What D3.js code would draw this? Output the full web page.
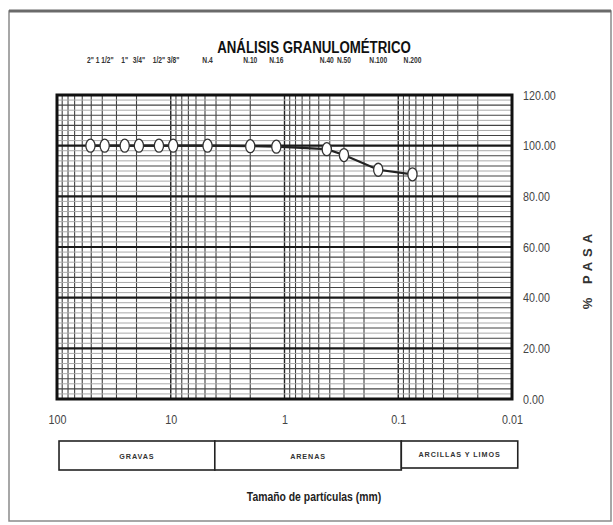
<!DOCTYPE html>
<html>
<head>
<meta charset="utf-8">
<script src="https://cdn.jsdelivr.net/npm/d3@7/dist/d3.min.js"></script>
<style>
  html, body { margin: 0; padding: 0; background: #fff; }
  svg { display: block; }
  text { font-family: "Liberation Sans", Arial, sans-serif; }
</style>
</head>
<body>
<script>
// Sieve series: labels, opening sizes (mm) and percentage passing
const sieveLabels = ['2"', '1 1/2"', '1"', '3/4"', '1/2"', '3/8"', 'N.4', 'N.10', 'N.16', 'N.40', 'N.50', 'N.100', 'N.200'];
const sieveSizes  = [50.8, 38.1, 25.4, 19.05, 12.7, 9.525, 4.75, 2.0, 1.18, 0.425, 0.3, 0.15, 0.075];
const percentPass = [100, 100, 100, 100, 100, 100, 100, 99.8, 99.6, 98.6, 96.3, 90.5, 88.7];

// Axis ticks
const xTickValues = [100, 10, 1, 0.1, 0.01];
const xTickLabels = ["100", "10", "1", "0.1", "0.01"];
const yTickValues = [0, 20, 40, 60, 80, 100, 120];

// Soil fraction bands below the chart (limits in mm)
const zoneNames  = ["GRAVAS", "ARENAS", "ARCILLAS Y LIMOS"];
const zoneLimits = [96, 4.1, 0.094, 0.0089];

const W = 613, H = 525;
const plot = { left: 57, right: 512, top: 95, bottom: 399 };

const svg = d3.select("body").append("svg")
  .attr("width", W).attr("height", H);

// Condensed text: horizontal squeeze around the anchor point
function placeText(parent, x0, y0, str, opts) {
  const t = parent.append("text")
    .attr("transform", `translate(${x0},${y0}) scale(${opts.sx || 0.8},1)`)
    .attr("text-anchor", opts.anchor || "middle")
    .attr("font-size", opts.size)
    .attr("font-weight", opts.weight || "normal")
    .attr("fill", opts.fill || "#222")
    .text(str);
  if (opts.spacing) t.attr("letter-spacing", opts.spacing);
  return t;
}

// Outer frame
svg.append("rect")
  .attr("x", 9).attr("y", 11).attr("width", 602).attr("height", 510)
  .attr("fill", "none").attr("stroke", "#8a8a8a").attr("stroke-width", 1.5);
svg.append("line")
  .attr("x1", 9).attr("x2", 611).attr("y1", 11).attr("y2", 11)
  .attr("stroke", "#6a6a6a").attr("stroke-width", 3);

const x = d3.scaleLog().domain([100, 0.01]).range([plot.left, plot.right]);
const y = d3.scaleLinear().domain([0, 120]).range([plot.bottom, plot.top]);

// Title
placeText(svg, 314, 53, "ANÁLISIS GRANULOMÉTRICO",
  { size: 17, weight: "bold", sx: 0.78, fill: "#111" });

const g = svg.append("g");

// Vertical log grid: 2..9 within every decade, darker at decades
const minorX = [];
for (let e = -2; e < 2; e++) {
  for (let m = 2; m <= 9; m++) minorX.push(m * Math.pow(10, e));
}
g.selectAll("line.vminor").data(minorX).join("line")
  .attr("x1", d => x(d)).attr("x2", d => x(d))
  .attr("y1", plot.top).attr("y2", plot.bottom)
  .attr("stroke", "#444").attr("stroke-width", 1.1);
g.selectAll("line.vmajor").data([10, 1, 0.1]).join("line")
  .attr("x1", d => x(d)).attr("x2", d => x(d))
  .attr("y1", plot.top).attr("y2", plot.bottom)
  .attr("stroke", "#222").attr("stroke-width", 1.4);

// Horizontal grid: light every 2, medium every 4, heavy every 20
const hLight = d3.range(2, 120, 4);
const hMid = d3.range(4, 120, 4).filter(v => v % 20 !== 0);
g.selectAll("line.hlight").data(hLight).join("line")
  .attr("x1", plot.left).attr("x2", plot.right)
  .attr("y1", d => y(d)).attr("y2", d => y(d))
  .attr("stroke", "#aaa").attr("stroke-width", 1);
g.selectAll("line.hmid").data(hMid).join("line")
  .attr("x1", plot.left).attr("x2", plot.right)
  .attr("y1", d => y(d)).attr("y2", d => y(d))
  .attr("stroke", "#444").attr("stroke-width", 1.1);
g.selectAll("line.hmajor").data(yTickValues.filter(v => v > 0 && v < 120)).join("line")
  .attr("x1", plot.left).attr("x2", plot.right)
  .attr("y1", d => y(d)).attr("y2", d => y(d))
  .attr("stroke", "#1a1a1a").attr("stroke-width", 2.2);

// Plot border
g.append("rect")
  .attr("x", plot.left).attr("y", plot.top)
  .attr("width", plot.right - plot.left).attr("height", plot.bottom - plot.top)
  .attr("fill", "none").attr("stroke", "#111").attr("stroke-width", 3);

// Right value axis
const yAxis = d3.axisRight(y).tickValues(yTickValues)
  .tickFormat(d3.format(".2f")).tickSize(0).tickPadding(0);
svg.append("g")
  .attr("transform", `translate(${plot.right + 11},0)`)
  .call(yAxis)
  .call(a => a.select(".domain").remove())
  .selectAll("text")
  .attr("font-family", "Liberation Sans, Arial, sans-serif")
  .attr("font-size", 12.5).attr("fill", "#444")
  .attr("transform", "scale(0.86,1)");

placeText(svg, 0, 0, "% PASA", { size: 13, weight: "bold", sx: 1, fill: "#333", spacing: 5 })
  .attr("transform", "translate(592,269) rotate(-90)");

// Bottom size axis
const xAxis = d3.axisBottom(x).tickValues(xTickValues)
  .tickFormat((d, i) => xTickLabels[i]).tickSize(0).tickPadding(0);
svg.append("g")
  .attr("transform", `translate(0,${plot.bottom + 16})`)
  .call(xAxis)
  .call(a => a.select(".domain").remove())
  .selectAll("text")
  .attr("font-family", "Liberation Sans, Arial, sans-serif")
  .attr("font-size", 12.5).attr("fill", "#444")
  .attr("transform", "scale(0.86,1)");

// Sieve names along the top
const sg = svg.append("g");
sieveLabels.forEach((lab, i) => {
  placeText(sg, x(sieveSizes[i]), 63, lab, { size: 9, weight: "bold", sx: 0.74, fill: "#333" });
});

// Grading curve
const pts = sieveSizes.map((s, i) => [s, percentPass[i]]);
svg.append("path")
  .datum(pts)
  .attr("fill", "none").attr("stroke", "#222").attr("stroke-width", 2.2)
  .attr("d", d3.line().x(d => x(d[0])).y(d => y(d[1])));
svg.append("g").selectAll("ellipse").data(pts).join("ellipse")
  .attr("cx", d => x(d[0])).attr("cy", d => y(d[1]))
  .attr("rx", 4.6).attr("ry", 6.5)
  .attr("fill", "#fff").attr("stroke", "#333").attr("stroke-width", 1.3);

// Soil fraction bands
const zones = zoneNames.map((n, i) => ({ name: n, a: zoneLimits[i], b: zoneLimits[i + 1] }));
const zg = svg.append("g");
zg.selectAll("rect").data(zones).join("rect")
  .attr("x", d => x(d.a)).attr("y", 441)
  .attr("width", d => x(d.b) - x(d.a)).attr("height", (d, i) => i === 2 ? 27 : 29)
  .attr("fill", "#fff").attr("stroke", "#222").attr("stroke-width", 1.6);
zones.forEach((d, i) => {
  placeText(zg, (x(d.a) + x(d.b)) / 2, i === 2 ? 457 : 459, d.name,
    { size: 8, weight: "bold", sx: 0.9, fill: "#333", spacing: 1 });
});

// Size axis title
placeText(svg, 314, 501, "Tamaño de partículas (mm)",
  { size: 13, weight: "bold", sx: 0.8, fill: "#222" });
</script>
</body>
</html>
